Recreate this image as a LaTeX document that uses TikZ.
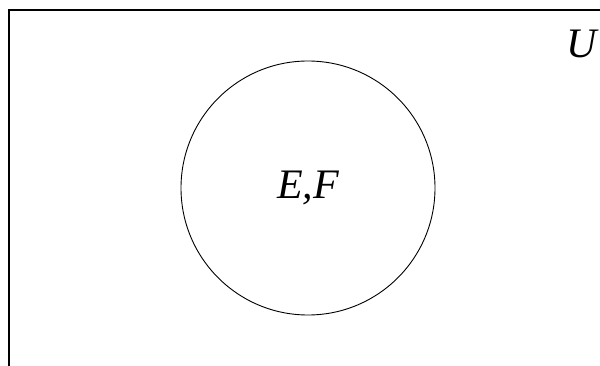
\documentclass[tikz,border=0pt]{standalone}
\usepackage{fontspec}
\setmainfont{Liberation Serif}
\tikzset{
  every node/.style={font=\fontsize{42}{50}\selectfont\itshape, inner sep=0pt},
  universe/.style={draw, line width=1.2pt},
  setcircle/.style={draw, circle, line width=0.9pt, minimum size=254pt},
}
\begin{document}
\begin{tikzpicture}[x=1pt, y=-1pt]
  \useasboundingbox (0,0) rectangle (600,366);
  \clip (0,0) rectangle (600,366);

  % universe box, cut off at right and bottom
  \draw[universe] (9,10) rectangle (640,420);
  \node (u) at (582,44) {U};

  % one circle for both sets
  \node[setcircle] (ef) at (308,188) {};
  \node (eflabel) at (ef.center) {E,F};
\end{tikzpicture}
\end{document}
